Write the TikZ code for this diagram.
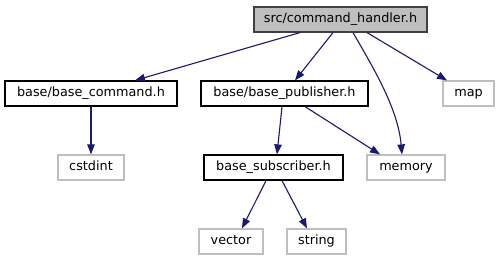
\documentclass[tikz,border=0pt]{standalone}
\usepackage{fontspec}
\setmainfont{DejaVu Sans}
\usetikzlibrary{arrows.meta,calc}
\definecolor{edgeblue}{HTML}{191970}
\definecolor{extgray}{HTML}{BFBFBF}
\definecolor{rootfill}{HTML}{BFBFBF}
\definecolor{rootdraw}{HTML}{404040}
\tikzset{
  filebox/.style={draw=black, fill=white, line width=1.2pt, minimum height=25pt,
    inner sep=0pt, text height=9.5pt, text depth=2.7pt,
    font=\fontsize{12.8}{15}\selectfont},
  rootbox/.style={filebox, draw=rootdraw, fill=rootfill},
  extbox/.style={filebox, draw=extgray},
  dep/.style={draw=edgeblue, line width=1.1pt,
    -{Triangle[length=10pt,width=7.5pt,fill=edgeblue]}}
}
\begin{document}
\begin{tikzpicture}[x=1pt,y=-1pt]
\useasboundingbox (0,0) rectangle (499,261);
% files of the project
\node[rootbox, minimum width=173pt] (root) at (340.5,19.5) {src/command\_handler.h};
\node[filebox, minimum width=172pt] (cmd) at (91,93.5) {base/base\_command.h};
\node[filebox, minimum width=167pt] (pub) at (284.5,93.5) {base/base\_publisher.h};
\node[filebox, minimum width=139pt] (sub) at (273.5,167.5) {base\_subscriber.h};
% standard headers
\node[extbox, minimum width=51pt] (map) at (468.5,93.5) {map};
\node[extbox, minimum width=66pt] (cstdint) at (91,167.5) {cstdint};
\node[extbox, minimum width=78pt] (memory) at (406,167.5) {memory};
\node[extbox, minimum width=64pt] (vector) at (231,241.5) {vector};
\node[extbox, minimum width=59pt] (string) at (316.5,241.5) {string};
% include relations
\draw[dep] ([xshift=-40.5pt]root.south) -- ([xshift=44pt]cmd.north);
\draw[dep] ([xshift=-7.5pt]root.south) -- ([xshift=10.5pt]pub.north);
\draw[dep] ([xshift=12.5pt]root.south) .. controls ($(root.south)+(34.5,38)$) and ($(memory.north)+(-8,-45)$) .. ([xshift=-4pt]memory.north);
\draw[dep] ([xshift=26.5pt]root.south) -- ([xshift=-21.5pt]map.north);
\draw[dep] (cmd.south) -- (cstdint.north);
\draw[dep] ([xshift=-2.5pt]pub.south) -- ([xshift=3.5pt]sub.north);
\draw[dep] ([xshift=20.5pt]pub.south) -- ([xshift=-26pt]memory.north);
\draw[dep] ([xshift=-7.5pt]sub.south) -- ([xshift=11pt]vector.north);
\draw[dep] ([xshift=8.5pt]sub.south) -- ([xshift=-9.5pt]string.north);
\end{tikzpicture}
\end{document}
